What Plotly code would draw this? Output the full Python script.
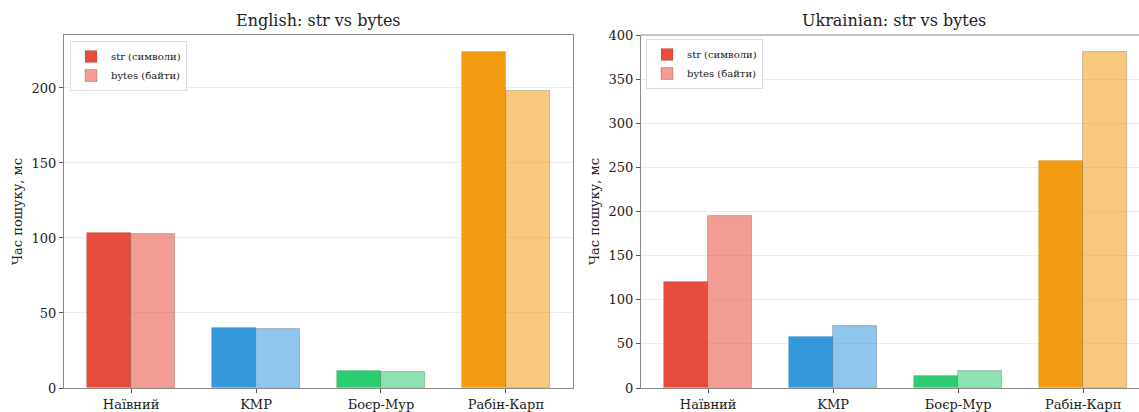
import plotly.graph_objects as go
from plotly.subplots import make_subplots

# Search algorithms and measured timings (ms)
algorithms = ["Наївний", "KMP", "Боєр-Мур", "Рабін-Карп"]
english_str = [103, 40, 11.3, 224]
english_bytes = [102.7, 39.5, 10.4, 198]
ukrainian_str = [120.5, 58, 13.5, 257]
ukrainian_bytes = [195, 70.5, 19.5, 381]

base_colors = ["#e74c3c", "#3498db", "#2ecc71", "#f39c12"]
light_colors = ["rgba(231,76,60,0.55)", "rgba(52,152,219,0.55)",
                "rgba(46,204,113,0.55)", "rgba(243,156,18,0.55)"]

W, H = 1139, 412
FONT = "DejaVu Serif, serif"

fig = make_subplots(rows=1, cols=2, horizontal_spacing=0.0)

x_pos = list(range(len(algorithms)))
bw = 0.35

def add_pair(col, s_vals, b_vals, legend):
    fig.add_trace(go.Bar(
        x=[p - bw / 2 for p in x_pos], y=s_vals, width=bw,
        name="str (символи)", legend=legend,
        marker=dict(color=base_colors, line=dict(color="rgba(0,0,0,0.12)", width=0.8)),
    ), row=1, col=col)
    fig.add_trace(go.Bar(
        x=[p + bw / 2 for p in x_pos], y=b_vals, width=bw,
        name="bytes (байти)", legend=legend,
        marker=dict(color=light_colors, line=dict(color="rgba(0,0,0,0.25)", width=0.8)),
    ), row=1, col=col)

add_pair(1, english_str, english_bytes, "legend")
add_pair(2, ukrainian_str, ukrainian_bytes, "legend2")

# plot areas in pixel coordinates
left_dom = [64 / W, 573 / W]
right_dom = [641 / W, 1.0]

axis_common = dict(
    showline=True, linecolor="#8a8a8a", linewidth=1,
    ticks="outside", ticklen=4, tickcolor="#555",
    tickfont=dict(family=FONT, size=13, color="#222"),
    zeroline=False,
)

fig.update_xaxes(
    tickmode="array", tickvals=x_pos, ticktext=algorithms,
    showgrid=False, mirror=True, **axis_common,
)
fig.update_xaxes(domain=left_dom, range=[-0.537, 3.537], row=1, col=1)
fig.update_xaxes(domain=right_dom, range=[-0.537, -0.537 + (W - 641) / 125.0],
                 mirror=False, row=1, col=2)

fig.update_yaxes(
    showgrid=True, gridcolor="#ececec", gridwidth=1,
    title=dict(text="Час пошуку, мс", font=dict(family=FONT, size=13, color="#222"), standoff=6),
    **axis_common,
)
fig.update_yaxes(range=[0, 235.3], tickvals=[0, 50, 100, 150, 200], mirror=True, row=1, col=1)
fig.update_yaxes(range=[0, 400], tickvals=list(range(0, 401, 50)), row=1, col=2)

# top border line for the right panel
fig.add_shape(type="line", xref="paper", yref="paper",
              x0=right_dom[0], x1=1.0, y0=1, y1=1,
              line=dict(color="#8a8a8a", width=1))

legend_style = dict(
    bgcolor="rgba(255,255,255,0.9)", bordercolor="#dddddd", borderwidth=1,
    font=dict(family=FONT, size=10, color="#222"),
    xanchor="left", yanchor="top", tracegroupgap=0, itemwidth=30,
)
fig.update_layout(
    width=W, height=H,
    margin=dict(l=0, r=0, t=35, b=24),
    paper_bgcolor="white", plot_bgcolor="white",
    barmode="overlay", bargap=0,
    showlegend=True,
    legend=dict(x=70 / W, y=1 - 6 / 353, **legend_style),
    legend2=dict(x=646 / W, y=1 - 4 / 353, **legend_style),
    font=dict(family=FONT),
    annotations=[
        dict(text="English: str vs bytes", xref="paper", yref="paper",
             x=318.5 / W, y=1, yshift=3, xanchor="center", yanchor="bottom",
             showarrow=False, font=dict(family=FONT, size=16, color="#222")),
        dict(text="Ukrainian: str vs bytes", xref="paper", yref="paper",
             x=894 / W, y=1, yshift=3, xanchor="center", yanchor="bottom",
             showarrow=False, font=dict(family=FONT, size=16, color="#222")),
    ],
)

fig.write_html("out.html")
